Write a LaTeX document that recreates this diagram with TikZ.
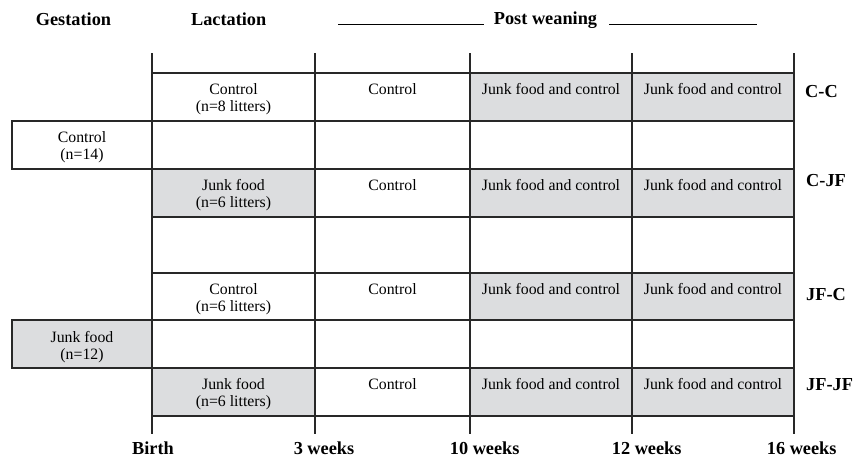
\documentclass[tikz,border=0pt]{standalone}
\usepackage{fontspec}
\setmainfont{Liberation Serif}
\usetikzlibrary{positioning, backgrounds}
\definecolor{cellgray}{RGB}{220,221,223}
\definecolor{gridline}{RGB}{40,40,40}

\begin{document}
\begin{tikzpicture}[
  x=1pt, y=-1pt,
  grid/.style={draw=gridline, line width=1.3pt},
  cell/.style={anchor=north, inner sep=0pt, align=center, font=\fontsize{15.8}{17}\selectfont},
  hdr/.style={anchor=base, inner sep=0pt, font=\fontsize{18.3}{20}\selectfont\bfseries},
  grp/.style={hdr, anchor=base west},
]
\useasboundingbox (0,0) rectangle (855,458);

\def\xl{152}
\def\xr{794}
\def\ytop{53}
\def\ybot{434}

% ---- shaded cells (post weaning columns of each group row + junk-food lactation) ----
\foreach \t/\b in {73/121, 169/217, 273/320, 368/416}{
  \fill[cellgray] (470,\t) rectangle (\xr,\b);
}
\fill[cellgray] (\xl,169) rectangle (315,217);   % C-JF lactation
\fill[cellgray] (\xl,368) rectangle (315,416);   % JF-JF lactation

% ---- grid ----
\foreach \y in {73, 121, 169, 217, 273, 320, 368, 416}{
  \draw[grid] (\xl,\y) -- (\xr,\y);
}
\foreach \x in {152, 315, 470, 632, 794}{
  \draw[grid] (\x,\ytop) -- (\x,\ybot);
}

% ---- gestation boxes ----
\draw[grid, fill=white]    (12,121) rectangle (\xl,169);
\draw[grid, fill=cellgray] (12,320) rectangle (\xl,368);
\node[cell] (gest-c)  at (82,131) {Control\\(n=14)};
\node[cell] (gest-jf) at (82,331) {Junk food\\(n=12)};

% ============================================================
% CELL TEXTS
% ============================================================
\node[cell] (cc-lac)   at (233.5,83)  {Control\\(n=8 litters)};
\node[cell] (cjf-lac)  at (233.5,179) {Junk food\\(n=6 litters)};
\node[cell] (jfc-lac)  at (233.5,283) {Control\\(n=6 litters)};
\node[cell] (jfjf-lac) at (233.5,378) {Junk food\\(n=6 litters)};
\foreach \t/\g in {73/cc, 169/cjf, 273/jfc, 368/jfjf}{
  \node[cell] (\g-wk3)  at (392.5,\t+10) {Control};
  \node[cell] (\g-wk10) at (551,\t+10)   {Junk food and control};
  \node[cell] (\g-wk12) at (713,\t+10)   {Junk food and control};
}

% ============================================================
% HEADERS, TIME POINTS, GROUP LABELS
% ============================================================
\node[hdr] (gest) at (73.5,25)  {Gestation};
\node[hdr] (lact) at (228.7,25) {Lactation};
\node[hdr] (post) at (545.5,24) {Post weaning};
\draw[line width=1pt] ([xshift=-10pt]post.base west) -- ++(-146,0);
\draw[line width=1pt] ([xshift=12pt]post.base east) -- ++(148,0);

\foreach \x/\lab/\nm in {153/Birth/birth, 324/3 weeks/wk3, 484.7/10 weeks/wk10,
                         646.7/12 weeks/wk12, 801.7/16 weeks/wk16}{
  \node[hdr] (t-\nm) at (\x,454) {\lab};
}

\node[grp] (lab-cc)   at (805,97.3)  {C-C};
\node[grp] (lab-cjf)  at (806,186.7) {C-JF};
\node[grp] (lab-jfc)  at (806,300.7) {JF-C};
\node[grp] (lab-jfjf) at (806,390)   {JF-JF};

\end{tikzpicture}
\end{document}
